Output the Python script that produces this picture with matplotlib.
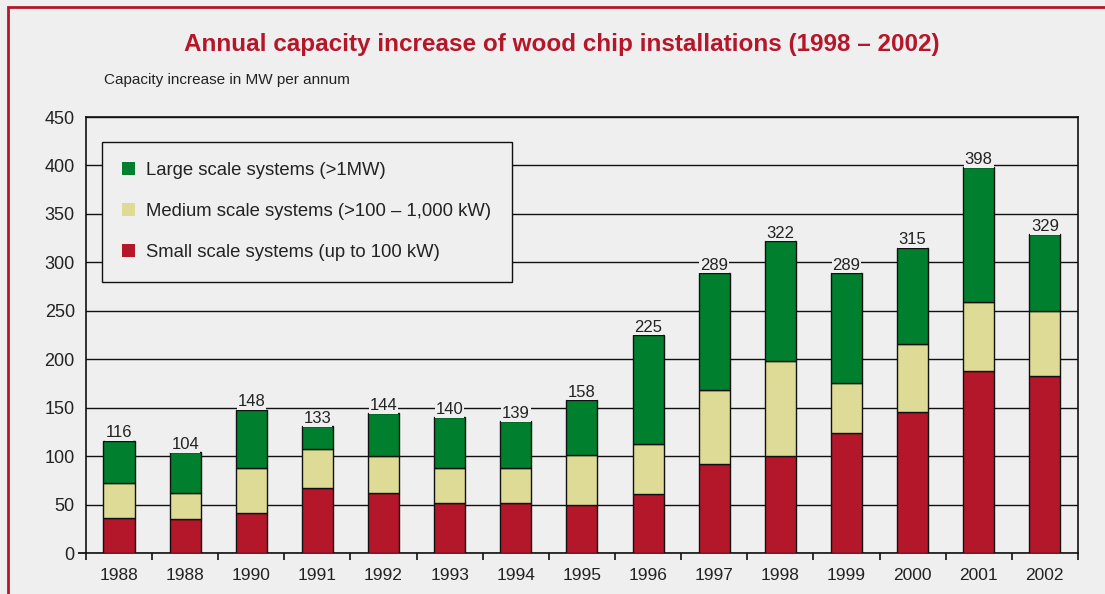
import numpy as np
import matplotlib.pyplot as plt
from matplotlib.patches import Patch, Rectangle

plt.rcParams['font.family'] = ['Liberation Sans', 'DejaVu Sans']

# labels as printed on the chart (second one really says 1988)
years = ['1988', '1988', '1990', '1991', '1992', '1993', '1994', '1995',
         '1996', '1997', '1998', '1999', '2000', '2001', '2002']
small = [36, 35, 41, 67, 62, 52, 52, 50, 61, 92, 100, 124, 146, 188, 183]
medium = [36, 27, 47, 40, 38, 36, 36, 51, 51, 76, 98, 51, 70, 71, 67]
large = [44, 42, 60, 24, 44, 52, 48, 57, 113, 121, 124, 114, 99, 139, 79]
totals = [116, 104, 148, 133, 144, 140, 139, 158, 225, 289, 322, 289, 315, 398, 329]

series_names = ['Large scale systems (>1MW)',
                'Medium scale systems (>100 \u2013 1,000 kW)',
                'Small scale systems (up to 100 kW)']

bg = '#efefef'
red = '#b5172a'
khaki = '#dedb96'
green = '#007f2f'
crimson = '#b5172a'

fig = plt.figure(figsize=(11.05, 5.94), dpi=100, facecolor=bg)
ax = fig.add_axes([0.0778, 0.069, 0.8977, 0.734], facecolor=bg)

x = np.arange(len(years))
small_a = np.array(small)
medium_a = np.array(medium)
large_a = np.array(large)

bw = 0.47
kw = dict(width=bw, edgecolor='#111111', linewidth=1.0, zorder=3)
ax.bar(x, small_a, color=red, **kw)
ax.bar(x, medium_a, bottom=small_a, color=khaki, **kw)
ax.bar(x, large_a, bottom=small_a + medium_a, color=green, **kw)

tops = small_a + medium_a + large_a
for xi, top, lab in zip(x, tops, totals):
    ax.annotate(str(lab), (xi, top), xytext=(0, 0.3), textcoords='offset points',
                ha='center', va='bottom', fontsize=12, color='#222222', zorder=4,
                bbox=dict(boxstyle='square,pad=0.05', facecolor=bg, edgecolor='none'))

ax.set_ylim(0, 450)
ax.set_xlim(-0.5, len(years) - 0.5)
ax.set_yticks(np.arange(0, 451, 50))
ax.yaxis.grid(True, color='#111111', linewidth=1.0, zorder=1)
ax.set_axisbelow(True)

ax.set_xticks(x)
ax.set_xticklabels(years, fontsize=12.5, color='#222222')
ax.set_xticks(np.arange(-0.5, len(years), 1), minor=True)
ax.tick_params(axis='x', which='major', length=0, pad=11)
ax.tick_params(axis='x', which='minor', length=5, width=1.2, direction='out', color='#111111')
ax.tick_params(axis='y', length=0, pad=8, labelsize=13, labelcolor='#222222')
ax.yaxis.get_major_ticks()[0].tick1line.set_markersize(6)
ax.yaxis.get_major_ticks()[0].tick1line.set_markeredgewidth(1.2)

for s in ax.spines.values():
    s.set_color('#111111')
    s.set_linewidth(1.2)

handles = [Patch(facecolor=green, edgecolor='none'),
           Patch(facecolor=khaki, edgecolor='none'),
           Patch(facecolor=red, edgecolor='none')]
leg = ax.legend(handles, series_names, loc='upper left', bbox_to_anchor=(0.016, 0.943),
                borderaxespad=0, fontsize=13.3, frameon=True, fancybox=False,
                facecolor=bg, edgecolor='#111111', framealpha=1,
                handlelength=0.7, handleheight=0.7, handletextpad=0.6,
                labelspacing=1.3, borderpad=1.1)
leg.get_frame().set_linewidth(1.0)
leg.set_zorder(5)
for t in leg.get_texts():
    t.set_color('#222222')

fig.text(0.5086, 1 - 45 / 594, 'Annual capacity increase of wood chip installations (1998 \u2013 2002)',
         ha='center', va='center', fontsize=17.5, fontweight='bold', color=crimson)
fig.text(104 / 1105, 1 - 80 / 594, 'Capacity increase in MW per annum',
         ha='left', va='center', fontsize=11, color='#222222')

# crimson frame, cut off on the right and bottom like the original
fig.patches.append(Rectangle((8 / 1105, -0.1), 1.2, 1.1 - 7 / 594, transform=fig.transFigure,
                             fill=False, edgecolor=crimson, linewidth=2))

fig.savefig('out.png', dpi=100, facecolor=bg)
